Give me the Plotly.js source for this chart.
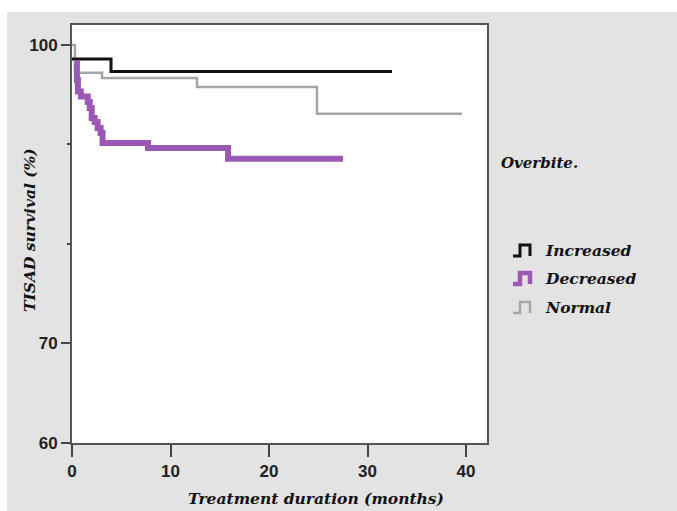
<!DOCTYPE html>
<html>
<head>
<meta charset="utf-8">
<script src="https://cdn.plot.ly/plotly-3.0.1.min.js"></script>
<style>html,body{margin:0;padding:0;background:#fff;}#chart{width:677px;height:511px;}</style>
</head>
<body>
<div id="chart"></div>
<script>
// Kaplan-Meier step data (months, survival %)
const increasedT = [0, 3.96, 32.49];
const increasedV = [98.59, 97.34, 97.34];

const decreasedT = [0.3, 0.5, 0.6, 0.9, 1.6, 1.8, 2.0, 2.3, 2.6, 2.9, 3.1, 7.72, 15.84, 27.51];
const decreasedV = [98.19, 96.48, 95.33, 94.82, 94.27, 93.67, 92.66, 92.26, 91.66, 91.16, 90.15, 89.65, 88.57, 88.57];

const normalT = [0, 0.30, 3.05, 12.69, 24.87, 39.59];
const normalV = [100, 97.19, 96.68, 95.78, 93.07, 93.07];

const seriesNames = ["Increased", "Decreased", "Normal"];
const seriesColors = ["#111111", "#9b59b5", "#a3a7ab"];

const xTicks = [0, 10, 20, 30, 40];
const yTicks = [60, 70, 100];
const yMinorTicks = [80, 90];

// layout geometry helpers (pixels -> paper)
const L = 72, R = 190, T = 25, B = 68, W = 677, H = 511;
const pw = W - L - R, ph = H - T - B;
const px = v => (v - L) / pw;
const py = v => (H - B - v) / ph;

const traces = [
  {x: normalT, y: normalV, name: seriesNames[2], mode: 'lines', line: {shape: 'hv', color: seriesColors[2], width: 2.5}},
  {x: increasedT, y: increasedV, name: seriesNames[0], mode: 'lines', line: {shape: 'hv', color: seriesColors[0], width: 3}},
  {x: decreasedT, y: decreasedV, name: seriesNames[1], mode: 'lines', line: {shape: 'hv', color: seriesColors[1], width: 6}}
];

const tickFont = {family: '"Liberation Sans", Arial, sans-serif', size: 17, color: '#222', weight: 'bold'};
const titleFont = {family: '"DejaVu Serif", "Liberation Serif", serif', size: 15.5, color: '#111', weight: 'bold', style: 'italic'};

function glyph(cy, color, w) {
  const x0 = px(513), x1 = px(520), x2 = px(530);
  const yt = py(cy - 5), yb = py(cy + 6);
  return {type: 'path', xref: 'paper', yref: 'paper',
    path: `M ${x0},${yb} L ${x1},${yb} L ${x1},${yt} L ${x2},${yt} L ${x2},${yb}`,
    line: {color: color, width: w}};
}

const legendY = [250, 278, 307];

const layout = {
  width: W, height: H,
  margin: {l: L, r: R, t: T, b: B, pad: 0},
  paper_bgcolor: '#e3e3e3',
  plot_bgcolor: '#ffffff',
  showlegend: false,
  xaxis: {
    range: [0, 42.13], tickmode: 'array', tickvals: xTicks, ticktext: xTicks.map(String),
    ticks: 'outside', ticklen: 12, tickwidth: 2, tickcolor: '#444',
    showline: true, linecolor: '#555', linewidth: 2, mirror: true,
    showgrid: false, zeroline: false, tickfont: tickFont
  },
  yaxis: {
    range: [60, 102], tickmode: 'array', tickvals: yTicks, ticktext: yTicks.map(String),
    ticks: 'outside', ticklen: 9, tickwidth: 2, tickcolor: '#444',
    minor: {tickmode: 'array', tickvals: yMinorTicks, ticks: 'outside', ticklen: 3, tickwidth: 2, tickcolor: '#444'},
    showline: true, linecolor: '#555', linewidth: 2, mirror: true,
    showgrid: false, zeroline: false, tickfont: tickFont
  },
  shapes: [
    {type: 'rect', xref: 'paper', yref: 'paper', x0: px(0), x1: px(W), y0: py(0), y1: py(12), fillcolor: '#ffffff', line: {width: 0}, layer: 'below'},
    {type: 'rect', xref: 'paper', yref: 'paper', x0: px(0), x1: px(7), y0: py(0), y1: py(H), fillcolor: '#ffffff', line: {width: 0}, layer: 'below'},
    glyph(legendY[0], seriesColors[0], 3),
    glyph(legendY[1], seriesColors[1], 4.5),
    glyph(legendY[2], seriesColors[2], 2.5)
  ],
  annotations: [
    {xref: 'paper', yref: 'paper', x: px(30), y: py(230), text: 'TISAD survival (%)', textangle: -90, showarrow: false, font: titleFont, xanchor: 'center', yanchor: 'middle'},
    {xref: 'paper', yref: 'paper', x: px(316), y: py(510), text: 'Treatment duration (months)', showarrow: false, font: titleFont, xanchor: 'center', yanchor: 'bottom'},
    {xref: 'paper', yref: 'paper', x: px(499), y: py(163), text: 'Overbite.', showarrow: false, font: Object.assign({}, titleFont, {size: 15}), xanchor: 'left', yanchor: 'middle'},
    ...seriesNames.map((n, i) => ({xref: 'paper', yref: 'paper', x: px(543), y: py(legendY[i]), text: n, showarrow: false, font: titleFont, xanchor: 'left', yanchor: 'middle'}))
  ]
};

Plotly.newPlot('chart', traces, layout, {displayModeBar: false, staticPlot: true});
</script>
</body>
</html>
